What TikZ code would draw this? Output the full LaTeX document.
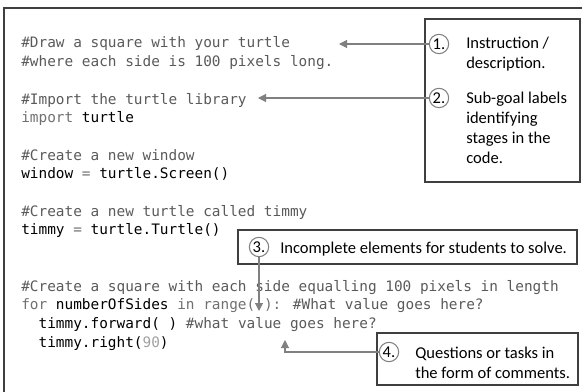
\documentclass[tikz,border=0pt]{standalone}
\usepackage{fontspec}
\setmainfont{Carlito}
\newfontfamily\codefont{DejaVu Sans Mono}
\usetikzlibrary{arrows.meta}

\definecolor{framegray}{HTML}{3F3F3F}
\definecolor{linegray}{HTML}{808080}
\definecolor{cmtgray}{HTML}{5A5A5A}
\definecolor{kwgray}{HTML}{707070}
\definecolor{numgray}{HTML}{A0A0A0}
\newcommand{\cmt}[1]{\textcolor{cmtgray}{#1}}
\newcommand{\kw}[1]{\textcolor{kwgray}{#1}}
\newcommand{\numlit}[1]{\textcolor{numgray}{#1}}

\tikzset{
    labelbox/.style={draw=framegray, line width=1.8pt},
    stepnum/.style={circle, draw=linegray, line width=0.8pt, fill=white, minimum size=14.5pt, inner sep=0pt, font=\fontsize{12.4}{15}\selectfont},
    note/.style={anchor=base west, align=left, inner sep=0pt, font=\fontsize{12.4}{15}\selectfont},
    pointer/.style={draw=linegray, line width=0.8pt, -{Triangle[length=6pt,width=6pt]}}
}

\begin{document}
\begin{tikzpicture}[x=0.75pt, y=-0.75pt]
    \useasboundingbox (0,0) rectangle (582,392);
    % outer frame, cut at the right and bottom
    \begin{scope}
        \clip (0,0) rectangle (582,392);
        \draw[draw=framegray, line width=1.5pt] (4,8) rectangle (590,400);
    \end{scope}

    % code listing (placed by the baseline of its last line)
    \node[anchor=base west, align=left, inner sep=0pt, font=\codefont\fontsize{10.8}{14.03}\selectfont] (code) at (21,347.2) {%
        \cmt{\#Draw a square with your turtle}\\
        \cmt{\#where each side is 100 pixels long.}\\
        \mbox{}\\
        \cmt{\#Import the turtle library}\\
        \kw{import} turtle\\
        \mbox{}\\
        \cmt{\#Create a new window}\\
        window \kw{=} turtle.Screen()\\
        \mbox{}\\
        \cmt{\#Create a new turtle called timmy}\\
        timmy \kw{=} turtle.Turtle()\\
        \mbox{}\\
        \mbox{}\\
        \cmt{\#Create a square with each side equalling 100 pixels in length}\\
        \kw{for} numberOfSides \kw{in range(\ ):} \cmt{\#What value goes here?}\\
        \phantom{xx}timmy.forward(\ ) \cmt{\#what value goes here?}\\
        \phantom{xx}timmy.right(\numlit{90})};

    % labels 1 and 2
    \draw[labelbox] (425,19) rectangle (580,182);
    \node[stepnum] (n1) at (439,44) {1.};
    \node[note] (t1) at (466,69) {Instruction /\\description.};
    \node[stepnum] (n2) at (439,98) {2.};
    \node[note] (t2) at (466,164) {Sub-goal labels\\identifying\\stages in the\\code.};

    % label 3
    \draw[labelbox] (238,230) rectangle (577,264);
    \node[stepnum] (n3) at (259,247) {3.};
    \node[note] (t3) at (280,253) {Incomplete elements for students to solve.};

    % label 4
    \draw[labelbox] (377,333) rectangle (578,385);
    \node[stepnum] (n4) at (389,352) {4.};
    \node[note] (t4) at (415,378) {Questions or tasks in\\the form of comments.};

    % pointers
    \coordinate (tip1) at (339,44);
    \coordinate (tip2) at (258,98);
    \coordinate (tip3) at (259,311);
    \coordinate (tip4) at (285,340);
    \draw[pointer] (n1) -- (tip1);
    \draw[pointer] (n2) -- (tip2);
    \draw[pointer] (n3) -- (tip3);
    \draw[pointer] (n4) -| (tip4);
\end{tikzpicture}
\end{document}
